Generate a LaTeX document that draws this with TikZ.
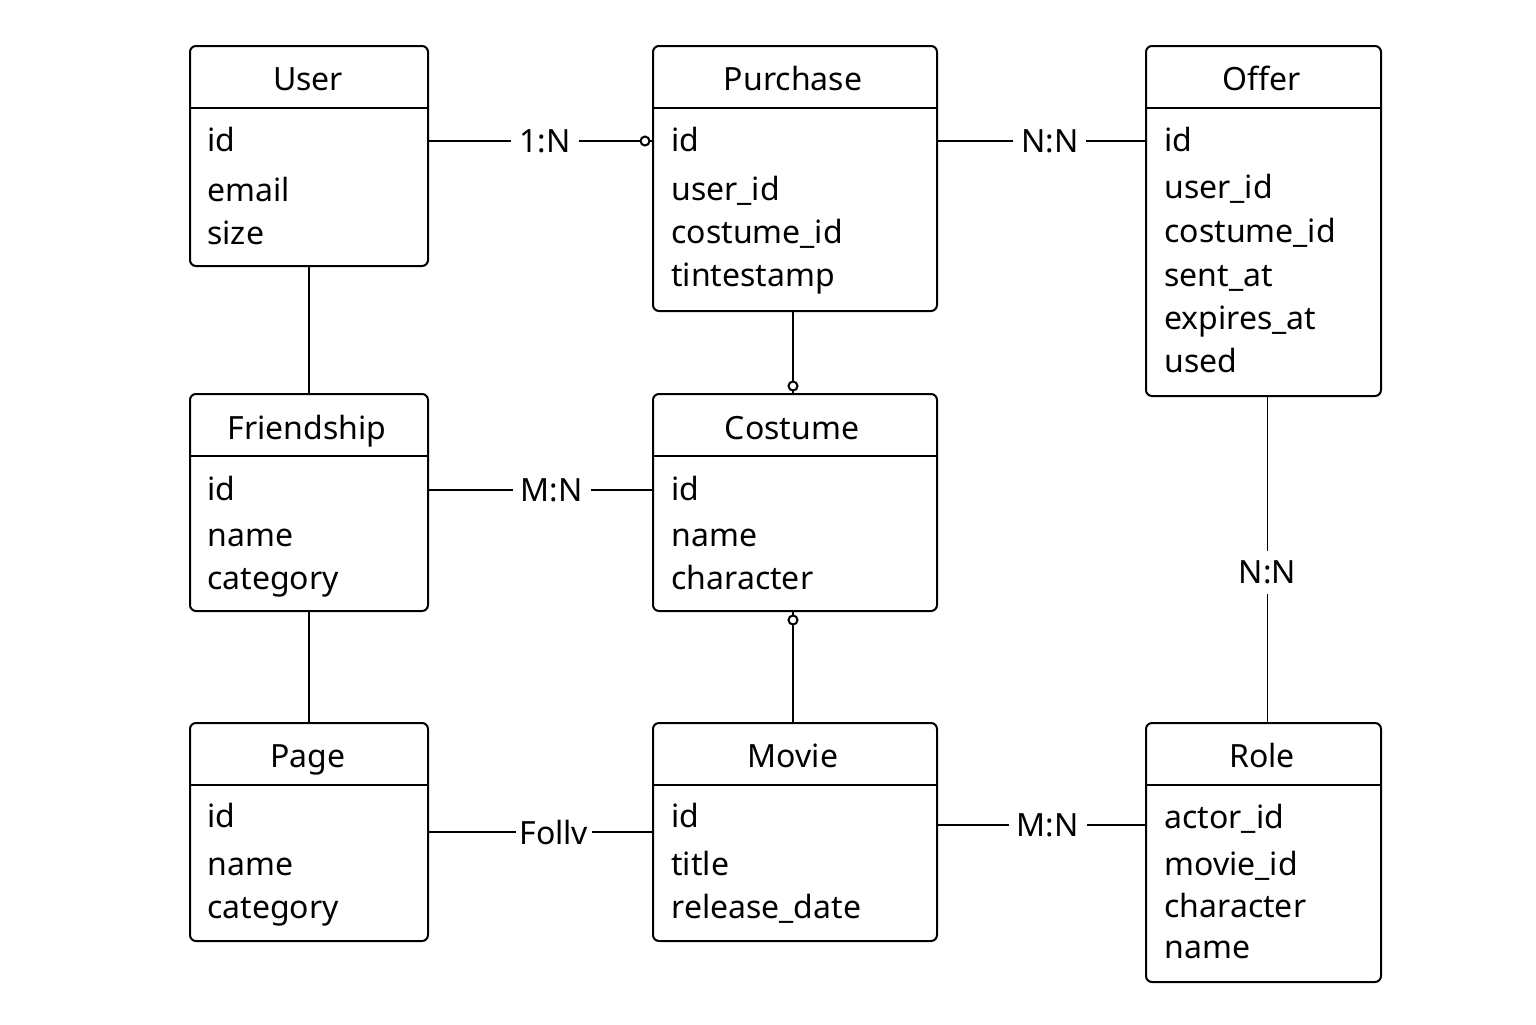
\documentclass[tikz,border=0pt]{standalone}
\usepackage{fontspec}
\setmainfont{Noto Sans}
\usetikzlibrary{calc}
\tikzset{
  ent/.style={draw=black, line width=1pt, rounded corners=3pt, anchor=north west, inner sep=0pt, fill=none},
  ttl/.style={anchor=base, font=\fontsize{16}{18}\selectfont, inner sep=0pt},
  fld/.style={anchor=base west, font=\fontsize{16}{18}\selectfont, inner sep=0pt},
  lbl/.style={fill=white, font=\fontsize{16}{18}\selectfont, inner xsep=4pt, inner ysep=2pt},
  conn/.style={draw=black, line width=0.9pt},
  hub/.style={circle, draw=black, fill=white, line width=1pt, inner sep=0pt, minimum size=4.5pt},
  divl/.style={draw=black, line width=1pt}
}
\begin{document}
\begin{tikzpicture}[x=0.5pt, y=-0.5pt]
\useasboundingbox[fill=white] (0,0) rectangle (1536,1024);

% entity boxes
\node[ent, minimum width=119pt, minimum height=110pt] (user) at (189,45) {};
\node[ent, minimum width=142pt, minimum height=132.5pt] (purchase) at (652,45) {};
\node[ent, minimum width=117.5pt, minimum height=175pt] (offer) at (1145,45) {};
\node[ent, minimum width=119pt, minimum height=108.5pt] (friend) at (189,393) {};
\node[ent, minimum width=142pt, minimum height=108.5pt] (costume) at (652,393) {};
\node[ent, minimum width=119pt, minimum height=109pt] (page) at (189,722) {};
\node[ent, minimum width=142pt, minimum height=109pt] (movie) at (652,722) {};
\node[ent, minimum width=117.5pt, minimum height=129.5pt] (role) at (1145,722) {};

% header dividers
\foreach \b in {user,purchase,offer}{
  \draw[divl] ($(\b.north west)+(0,63)$) -- ($(\b.north east)+(0,63)$);
}
\foreach \b in {friend,costume,page,movie,role}{
  \draw[divl] ($(\b.north west)+(0,63)$) -- ($(\b.north east)+(0,63)$);
}

% titles
\node[ttl] (tuser) at (308,90) {User};
\node[ttl] (tpurchase) at (793,90) {Purchase};
\node[ttl] (toffer) at (1262,90) {Offer};
\node[ttl] (tfriend) at (307,439) {Friendship};
\node[ttl] (tcostume) at (792,439) {Costume};
\node[ttl] (tpage) at (308,767) {Page};
\node[ttl] (tmovie) at (793,767) {Movie};
\node[ttl] (trole) at (1262,767) {Role};

% fields
\node[fld] (u1) at (207,151) {id};
\node[fld] (u2) at (207,201) {email};
\node[fld] (u3) at (207,244) {size};

\node[fld] (p1) at (671,151) {id};
\node[fld] (p2) at (671,200) {user\_id};
\node[fld] (p3) at (671,243) {costume\_id};
\node[fld] (p4) at (671,286) {tintestamp};

\node[fld] (o1) at (1164,151) {id};
\node[fld] (o2) at (1164,198) {user\_id};
\node[fld] (o3) at (1164,242) {costume\_id};
\node[fld] (o4) at (1164,286) {sent\_at};
\node[fld] (o5) at (1164,329) {expires\_at};
\node[fld] (o6) at (1164,372) {used};

\node[fld] (f1) at (207,500) {id};
\node[fld] (f2) at (207,546) {name};
\node[fld] (f3) at (207,589) {category};

\node[fld] (c1) at (671,500) {id};
\node[fld] (c2) at (671,546) {name};
\node[fld] (c3) at (671,589) {character};

\node[fld] (g1) at (207,827) {id};
\node[fld] (g2) at (207,875) {name};
\node[fld] (g3) at (207,918) {category};

\node[fld] (m1) at (671,827) {id};
\node[fld] (m2) at (671,875) {title};
\node[fld] (m3) at (671,918) {release\_date};

\node[fld] (r1) at (1164,828) {actor\_id};
\node[fld] (r2) at (1164,875) {movie\_id};
\node[fld] (r3) at (1164,917) {character};
\node[fld] (r4) at (1164,958) {name};

% row levels for connectors
\coordinate (y1) at (0,141);
\coordinate (y2) at (0,490);
\coordinate (y3) at (0,832);
\coordinate (y4) at (0,825);

% connectors
\draw[conn] (user.east |- y1) -- node[lbl, pos=0.52] (l1) {1:N} (purchase.west |- y1);
\node[hub] (h1) at ($(purchase.west |- y1)+(-7,0)$) {};

\draw[conn] (purchase.east |- y1) -- node[lbl, pos=0.54] (l2) {N:N} (offer.west |- y1);

\draw[conn] (user.south) -- (friend.north);
\draw[conn] ($(purchase.south)+(-2,0)$) -- ($(costume.north)+(-2,0)$);
\node[hub] (h2) at ($(costume.north)+(-2,-7)$) {};

\draw[conn] (friend.east |- y2) -- node[lbl, pos=0.55] (l3) {M:N} (costume.west |- y2);

\draw[conn] (friend.south) -- (page.north);
\draw[conn] ($(costume.south)+(-2,0)$) -- ($(movie.north)+(-2,0)$);
\node[hub] (h3) at ($(costume.south)+(-2,8)$) {};

\draw[conn] ($(offer.south)+(4,0)$) -- node[lbl, pos=0.54, inner xsep=2pt, inner ysep=5pt] (l4) {N:N} ($(role.north)+(4,0)$);

\draw[conn] (page.east |- y3) -- node[lbl, pos=0.56, inner xsep=2pt] (l5) {Follv} (movie.west |- y3);
\draw[conn] (movie.east |- y4) -- node[lbl, pos=0.53] (l6) {M:N} (role.west |- y4);

\end{tikzpicture}
\end{document}
